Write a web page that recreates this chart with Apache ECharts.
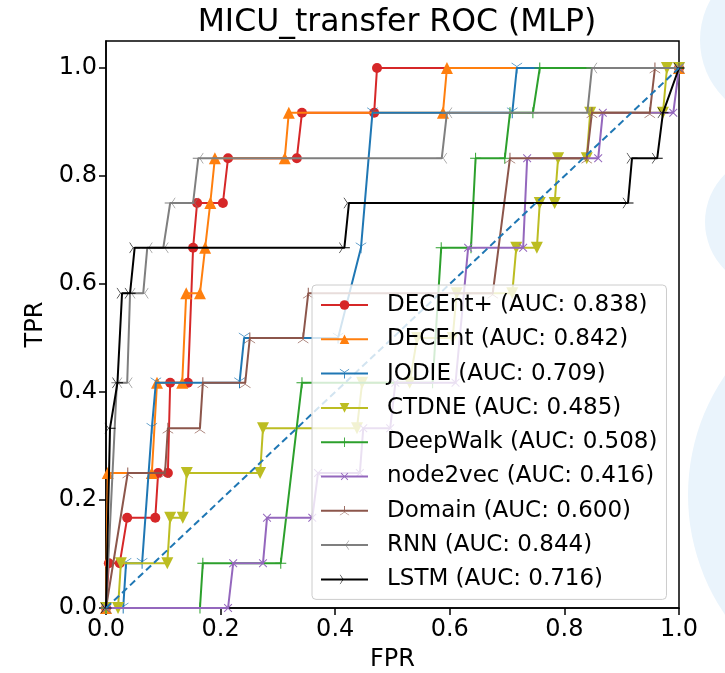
<!DOCTYPE html>
<html>
<head>
<meta charset="utf-8">
<script src="https://cdn.jsdelivr.net/npm/echarts@6/dist/echarts.min.js"></script>
<style>
html,body{margin:0;padding:0;background:#fff;}
#chart{width:725px;height:673px;}
</style>
</head>
<body>
<div id="chart"></div>
<script>
// ---- data (ROC vertices) ----
const seriesNames = ['DECEnt+ (AUC: 0.838)','DECEnt (AUC: 0.842)','JODIE (AUC: 0.709)','CTDNE (AUC: 0.485)','DeepWalk (AUC: 0.508)','node2vec (AUC: 0.416)','Domain (AUC: 0.600)','RNN (AUC: 0.844)','LSTM (AUC: 0.716)'];

const decentPlusFpr = [0, 0.005, 0.024, 0.037, 0.086, 0.091, 0.108, 0.112, 0.143, 0.152, 0.159, 0.204, 0.213, 0.333, 0.342, 0.468, 0.473, 1.0];
const decentPlusTpr = [0, 0.083, 0.083, 0.167, 0.167, 0.25, 0.25, 0.417, 0.417, 0.667, 0.75, 0.75, 0.833, 0.833, 0.917, 0.917, 1.0, 1.0];

const decentFpr = [0, 0.003, 0.08, 0.089, 0.133, 0.14, 0.164, 0.173, 0.182, 0.19, 0.312, 0.319, 0.588, 0.595, 1.0];
const decentTpr = [0, 0.25, 0.25, 0.417, 0.417, 0.583, 0.583, 0.667, 0.75, 0.833, 0.833, 0.917, 0.917, 1.0, 1.0];

const jodieFpr = [0, 0.03, 0.035, 0.063, 0.08, 0.087, 0.233, 0.241, 0.405, 0.445, 0.465, 0.709, 0.717, 1.0];
const jodieTpr = [0, 0, 0.083, 0.083, 0.333, 0.417, 0.417, 0.5, 0.5, 0.667, 0.917, 0.917, 1.0, 1.0];

const ctdneFpr = [0, 0.021, 0.026, 0.107, 0.112, 0.134, 0.141, 0.269, 0.274, 0.438, 0.447, 0.53, 0.543, 0.605, 0.612, 0.709, 0.716, 0.752, 0.757, 0.783, 0.789, 0.839, 0.845, 0.972, 0.979, 1.0];
const ctdneTpr = [0, 0, 0.083, 0.083, 0.167, 0.167, 0.25, 0.25, 0.333, 0.333, 0.417, 0.417, 0.5, 0.5, 0.583, 0.583, 0.667, 0.667, 0.75, 0.75, 0.833, 0.833, 0.917, 0.917, 1.0, 1.0];

const deepwalkFpr = [0, 0.164, 0.169, 0.305, 0.342, 0.57, 0.585, 0.637, 0.645, 0.696, 0.705, 0.745, 0.757, 1.0];
const deepwalkTpr = [0, 0, 0.083, 0.083, 0.417, 0.417, 0.667, 0.667, 0.833, 0.833, 0.917, 0.917, 1.0, 1.0];

const node2vecFpr = [0, 0.213, 0.222, 0.274, 0.281, 0.36, 0.37, 0.443, 0.449, 0.496, 0.505, 0.61, 0.632, 0.728, 0.735, 0.859, 0.867, 0.99, 1.0];
const node2vecTpr = [0, 0, 0.083, 0.083, 0.167, 0.167, 0.25, 0.25, 0.333, 0.333, 0.417, 0.417, 0.667, 0.667, 0.833, 0.833, 0.917, 0.917, 1.0];

const domainFpr = [0, 0.038, 0.103, 0.108, 0.164, 0.169, 0.243, 0.251, 0.344, 0.353, 0.675, 0.705, 0.839, 0.848, 0.949, 0.958, 1.0];
const domainTpr = [0, 0.25, 0.25, 0.333, 0.333, 0.417, 0.417, 0.5, 0.5, 0.583, 0.583, 0.833, 0.833, 0.917, 0.917, 1.0, 1.0];

const rnnFpr = [0, 0.019, 0.037, 0.042, 0.065, 0.072, 0.1, 0.112, 0.152, 0.161, 0.586, 0.595, 0.84, 0.848, 1.0];
const rnnTpr = [0, 0.417, 0.417, 0.583, 0.583, 0.667, 0.667, 0.75, 0.75, 0.833, 0.833, 0.917, 0.917, 1.0, 1.0];

const lstmFpr = [0, 0.007, 0.02, 0.028, 0.042, 0.05, 0.416, 0.424, 0.911, 0.918, 0.962, 0.972, 1.0];
const lstmTpr = [0, 0.333, 0.417, 0.583, 0.583, 0.667, 0.667, 0.75, 0.75, 0.833, 0.833, 0.917, 1.0];

const chanceFpr = [0, 1];
const chanceTpr = [0, 1];

const tickValues = [0, 0.2, 0.4, 0.6, 0.8, 1.0];

// ---- styling ----
const FONT = 'DejaVu Sans';
const colors = ['#d62728','#ff7f0e','#1f77b4','#bcbd22','#2ca02c','#9467bd','#8c564b','#7f7f7f','#000000'];

// thin-arm "tri" marker (one arm down, two arms up-left / up-right)
const triPath = 'path://M-0.8,0L0.8,0L0.8,10L-0.8,10Z M-0.4,-0.69L-9.06,-5.69L-8.26,-4.31L0.4,0.69Z M0.4,-0.69L9.06,-5.69L8.26,-4.31L-0.4,0.69Z';
const plusPath = 'path://M-0.9,-10L0.9,-10L0.9,-0.9L10,-0.9L10,0.9L0.9,0.9L0.9,10L-0.9,10L-0.9,0.9L-10,0.9L-10,-0.9L-0.9,-0.9Z';

const markers = [
  {symbol:'circle', size:10, rotate:0},
  {symbol:'triangle', size:12, rotate:0},
  {symbol:triPath, size:11, rotate:0},
  {symbol:'triangle', size:12, rotate:180},
  {symbol:plusPath, size:11, rotate:0},
  {symbol:plusPath, size:11, rotate:45},
  {symbol:triPath, size:11, rotate:180},
  {symbol:triPath, size:11, rotate:-90},
  {symbol:triPath, size:11, rotate:90}
];

const fprs = [decentPlusFpr, decentFpr, jodieFpr, ctdneFpr, deepwalkFpr, node2vecFpr, domainFpr, rnnFpr, lstmFpr];
const tprs = [decentPlusTpr, decentTpr, jodieTpr, ctdneTpr, deepwalkTpr, node2vecTpr, domainTpr, rnnTpr, lstmTpr];

function pairs(xs, ys){ return xs.map((x,i)=>[x, ys[i]]); }

const series = seriesNames.map((name, i) => ({
  name: name,
  type: 'line',
  data: pairs(fprs[i], tprs[i]),
  symbol: markers[i].symbol,
  symbolSize: markers[i].size,
  symbolRotate: markers[i].rotate,
  showAllSymbol: true,
  lineStyle: {color: colors[i], width: 2},
  itemStyle: {color: colors[i], borderWidth: 0},
  emphasis: {disabled: true},
  z: 2 + i * 0.01,
  clip: true
}));

series.push({
  name: 'chance',
  type: 'line',
  data: pairs(chanceFpr, chanceTpr),
  symbol: 'none',
  lineStyle: {color: '#1f77b4', width: 2, type: [7, 4]},
  emphasis: {disabled: true},
  z: 3
});

const chart = echarts.init(document.getElementById('chart'), null, {renderer: 'canvas'});
chart.setOption({
  animation: false,
  backgroundColor: '#ffffff',
  graphic: [
    {type: 'circle', shape: {cx: 782, cy: 40, r: 82}, style: {fill: '#eaf4fc'}, z: -10, silent: true},
    {type: 'circle', shape: {cx: 772, cy: 222, r: 67}, style: {fill: '#eaf4fc'}, z: -10, silent: true},
    {type: 'circle', shape: {cx: 900, cy: 495, r: 212}, style: {fill: '#eaf4fc'}, z: -10, silent: true}
  ],
  title: {
    text: 'MICU_transfer ROC (MLP)',
    left: 392, top: 2, textAlign: 'center',
    textStyle: {fontFamily: FONT, fontSize: 31.5, fontWeight: 'normal', color: '#000'}
  },
  grid: {left: 106, right: 46, top: 41, bottom: 65, show: true, borderColor: '#000', borderWidth: 1.5, backgroundColor: '#fff', containLabel: false, outerBoundsMode: 'none'},
  xAxis: {
    type: 'value', min: 0, max: 1, interval: 0.2,
    name: 'FPR', nameLocation: 'middle', nameGap: 40,
    nameTextStyle: {fontFamily: FONT, fontSize: 24, color: '#000'},
    axisLine: {show: true, onZero: false, lineStyle: {color: '#000', width: 1.5}},
    axisTick: {show: true, length: 7, lineStyle: {color: '#000', width: 1.5}},
    axisLabel: {fontFamily: FONT, fontSize: 24, color: '#000', margin: 10, formatter: v => v.toFixed(1)},
    splitLine: {show: false}
  },
  yAxis: {
    type: 'value', min: 0, max: 1.05, interval: 0.2,
    name: 'TPR', nameLocation: 'middle', nameGap: 52,
    nameTextStyle: {fontFamily: FONT, fontSize: 24, color: '#000'},
    axisLine: {show: true, onZero: false, lineStyle: {color: '#000', width: 1.5}},
    axisTick: {show: true, length: 7, customValues: tickValues, lineStyle: {color: '#000', width: 1.5}},
    axisLabel: {fontFamily: FONT, fontSize: 24, color: '#000', margin: 9, customValues: tickValues, formatter: v => v.toFixed(1)},
    splitLine: {show: false}
  },
  legend: {
    data: seriesNames,
    orient: 'vertical',
    left: 312, top: 285,
    itemWidth: 47, itemHeight: 12, itemGap: 10.3,
    padding: [8, 9, 8, 8],
    backgroundColor: 'rgba(255,255,255,0.8)',
    borderColor: '#cccccc', borderWidth: 1, borderRadius: 4,
    textStyle: {fontFamily: FONT, fontSize: 23, color: '#000', lineHeight: 24, padding: [0, 0, 0, 14]},
    selectedMode: false
  },
  series: series
});
</script>
</body>
</html>
